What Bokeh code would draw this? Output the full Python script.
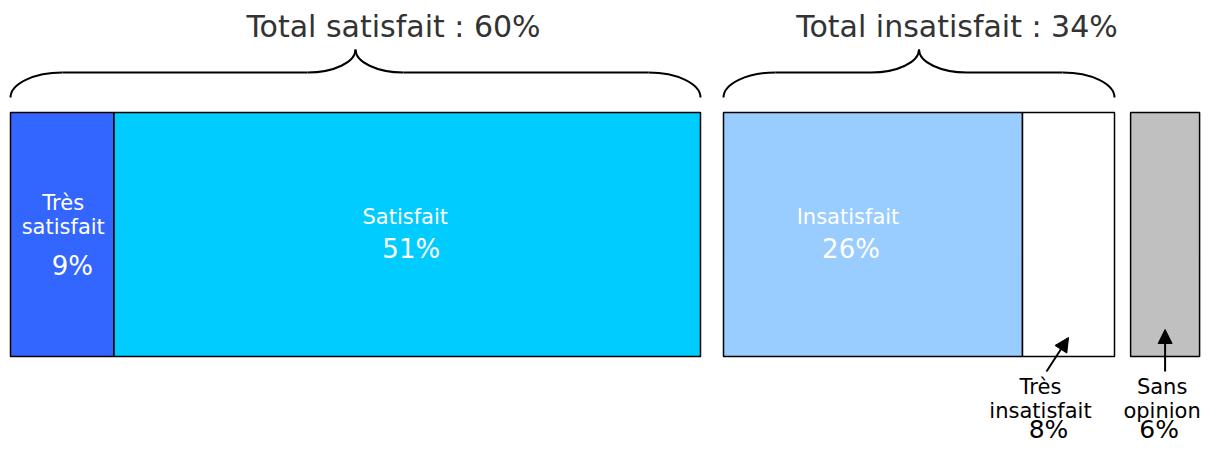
from bokeh.plotting import figure
from bokeh.models import Range1d, Arrow, NormalHead
from bokeh.core.properties import value
from bokeh.embed import file_html
from bokeh.resources import INLINE

# ---------------- data ----------------
categories = ["Très satisfait", "Satisfait", "Insatisfait", "Très insatisfait", "Sans opinion"]
values = [9, 51, 26, 8, 6]
groups = [0, 0, 1, 1, 2]
colors = ["#3366FF", "#00CCFF", "#99CCFF", "#FFFFFF", "#C0C0C0"]
group_titles = ["Total satisfait", "Total insatisfait"]

# ---------------- layout ----------------
W, H = 1201, 447
K = 11.5                 # px per percent unit
GAPS = {1: 2.0, 2: 1.4}  # gap before each group (data units)
FONT = value("DejaVu Sans")

def px(d):
    return d / K

x0 = -px(10)
p = figure(width=W, height=H, x_range=Range1d(x0, x0 + W / K), y_range=Range1d(H, 0),
           output_backend="svg", toolbar_location=None, min_border=0,
           x_axis_type=None, y_axis_type=None)
p.grid.visible = False
p.outline_line_color = None
p.background_fill_color = "white"

# compute bar positions
lefts, rights = [], []
pos = 0.0
prev_g = groups[0]
for v, g in zip(values, groups):
    if g != prev_g:
        pos += GAPS[g]
        prev_g = g
    lefts.append(pos)
    pos += v
    rights.append(pos)
centers = [(l + r) / 2 for l, r in zip(lefts, rights)]

BAR_TOP, BAR_BOT = 112, 356
p.quad(left=lefts, right=rights, top=[BAR_TOP] * len(values), bottom=[BAR_BOT] * len(values),
       fill_color=colors, line_color="black", line_width=1.5)

# ---------------- braces + totals ----------------
Y_END, Y_MID, Y_TIP = 97, 72, 49
CORNER, TIPW = 52, 48
for gi, title in enumerate(group_titles):
    idx = [i for i, g in enumerate(groups) if g == gi]
    xs, xe = lefts[idx[0]], rights[idx[-1]]
    total = sum(values[i] for i in idx)
    xt = (xs + xe) / 2
    bx0 = [xs, xe, xt, xt]
    by0 = [Y_END, Y_END, Y_TIP, Y_TIP]
    bx1 = [xs + px(CORNER), xe - px(CORNER), xt - px(TIPW), xt + px(TIPW)]
    by1 = [Y_MID] * 4
    cx0 = [xs, xe, xt, xt]
    cy0 = [Y_END - 0.55 * (Y_END - Y_MID)] * 2 + [Y_TIP + 0.55 * (Y_MID - Y_TIP)] * 2
    cx1 = [xs + px(CORNER * 0.45), xe - px(CORNER * 0.45), xt - px(TIPW * 0.45), xt + px(TIPW * 0.45)]
    cy1 = [Y_MID] * 4
    p.bezier(x0=bx0, y0=by0, x1=bx1, y1=by1, cx0=cx0, cy0=cy0, cx1=cx1, cy1=cy1,
             line_color="black", line_width=2)
    p.segment(x0=[xs + px(CORNER), xt + px(TIPW)], y0=[Y_MID, Y_MID],
              x1=[xt - px(TIPW), xe - px(CORNER)], y1=[Y_MID, Y_MID],
              line_color="black", line_width=2)
    p.text(x=[xt], y=[26], text=[f"{title} : {total}%"], x_offset=38,
           text_align="center", text_baseline="alphabetic", text_font=FONT,
           text_font_size="30px", text_color="#333333")

# ---------------- labels ----------------
# (inside?, label x-offset px, pct x-offset px, line baselines, pct baseline)
label_layout = [
    (True, 1, 10, [202, 226], 265),
    (True, -2, 4, [216], 248),
    (True, -25, -22, [216], 248),
    (False, -28, -20, [386, 410], 429),
    (False, -3, -6, [386, 410], 429),
]
for i, cat in enumerate(categories):
    inside, lo, po, bases, pb = label_layout[i]
    col = "white" if inside else "black"
    psize = "26px" if inside else "25px"
    lines = cat.split(" ")
    for ln, b in zip(lines, bases):
        p.text(x=[centers[i]], y=[b], text=[ln], x_offset=lo, text_align="center",
               text_baseline="alphabetic", text_font=FONT, text_font_size="21px", text_color=col)
    p.text(x=[centers[i]], y=[pb], text=[f"{values[i]}%"], x_offset=po, text_align="center",
           text_baseline="alphabetic", text_font=FONT, text_font_size=psize, text_color=col)

# arrows for outside labels
arrow_layout = {3: (-22, 371, 337), 4: (0, 371, 329)}
for i, (dx, ys, ye) in arrow_layout.items():
    p.add_layout(Arrow(end=NormalHead(size=14, fill_color="black", line_color="black"),
                       x_start=centers[i] + px(dx), y_start=ys, x_end=centers[i], y_end=ye,
                       line_color="black", line_width=2))

open("out.html", "w").write(file_html(p, INLINE))
